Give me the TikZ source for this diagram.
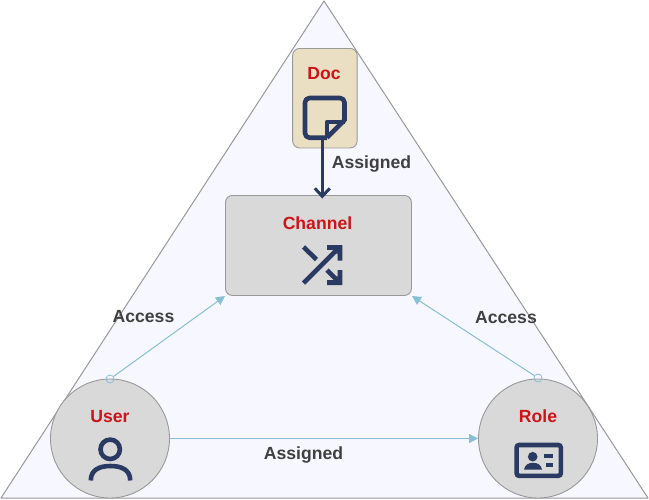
\documentclass[tikz,border=0pt]{standalone}
\usepackage{fontspec}
\setmainfont{Liberation Sans}
\usetikzlibrary{arrows.meta}
\definecolor{navy}{HTML}{2B3A63}
\definecolor{linkblue}{HTML}{86BFD6}
\definecolor{redtxt}{HTML}{CC1418}
\definecolor{greytxt}{HTML}{404040}
\definecolor{boxgrey}{HTML}{D9D9D9}
\definecolor{docfill}{HTML}{EBDFC3}
\definecolor{edgegrey}{HTML}{999999}
\definecolor{triback}{HTML}{F7F7FF}
\tikzset{
  title/.style={font=\fontsize{17.6}{20}\selectfont\bfseries,text=redtxt,anchor=base,inner sep=0pt},
  edgelabel/.style={font=\fontsize{17.6}{20}\selectfont\bfseries,text=greytxt,anchor=base,inner sep=0pt},
  rbox/.style={draw=edgegrey,line width=0.9pt,rounded corners=7pt,inner sep=0pt,anchor=north west},
  entity/.style={circle,draw=edgegrey,fill=boxgrey,line width=0.9pt,minimum size=119pt,inner sep=0pt},
  startdot/.style={circle,draw=linkblue,fill=none,line width=0.8pt,minimum size=8pt,inner sep=0pt},
  link/.style={draw=linkblue,line width=1pt,-{Triangle[length=9pt,width=9pt,fill=linkblue]}},
  icon/.style={draw=navy,line width=4.6pt},
}
\begin{document}
\begin{tikzpicture}[x=1pt,y=-1pt]
\useasboundingbox (0,0) rectangle (649,499);
\fill[white] (0,0) rectangle (649,499);
\draw[draw=edgegrey,fill=triback,line width=1pt,line join=round] (324,1) -- (648,498) -- (1,498) -- cycle;

\node[rbox,fill=docfill,minimum width=64.5pt,minimum height=99.5pt] (doc) at (292.2,48) {};
\node[rbox,fill=boxgrey,minimum width=186pt,minimum height=100pt] (channel) at (225,195) {};
\node[entity] (user) at (110,438.5) {};
\node[entity] (role) at (538,438.5) {};

\coordinate (docout) at (322.3,140);
\coordinate (chanin) at (322.3,198.5);
\draw[draw=navy,line width=3pt,-{Straight Barb[length=8pt,width=15pt,line width=3pt]}] (docout) -- (chanin);

\node[startdot] (us) at (110,379) {};
\node[startdot] (rs) at (538,378) {};
\coordinate (chanL) at (225,296);
\coordinate (chanR) at (412,296);
\draw[link] (us) -- (chanL);
\draw[link] (rs) -- (chanR);
\draw[link] (user.east) -- (role.west);

\node[title] (tdoc) at (324,79) {Doc};
\node[title] (tchan) at (317.5,229.3) {Channel};
\node[title] (tuser) at (110,422) {User};
\node[title] (trole) at (538,422) {Role};
\node[edgelabel] (l1) at (371.5,168) {Assigned};
\node[edgelabel] (l2) at (143.5,322) {Access};
\node[edgelabel] (l3) at (506,323) {Access};
\node[edgelabel] (l4) at (303.5,459) {Assigned};

% doc icon
\draw[icon,line join=round,rounded corners=4.5pt] (327,137.7) -- (305,137.7) -- (305,98) -- (344.5,98) -- (344.5,121);
\draw[icon,line join=round] (344.5,120) -- (327,137.7);
\draw[icon,line join=round] (344.5,122) -- (327,122) -- (327,137.7);

% channel icon
\draw[icon] (303.5,283) -- (339,247.5);
\draw[icon] (303.5,247) -- (316.5,259.5);
\draw[icon] (327,270) -- (339,282);
\fill[navy] (327,245) -- (342.3,245) -- (342.3,260.5) -- (337.5,260.5) -- (337.5,249.8) -- (327,249.8) -- cycle;
\fill[navy] (333,250) -- (337.6,250) -- (337.6,254.5) -- cycle;
\fill[navy] (342.3,270) -- (342.3,285) -- (327,285) -- (327,280.2) -- (337.5,280.2) -- (337.5,270) -- cycle;
\fill[navy] (333,280.2) -- (337.6,280.2) -- (337.6,275.5) -- cycle;

% user icon
\draw[icon] (110.2,449.3) circle (9.7);
\draw[icon] (90.8,480.5) .. controls (90.8,470) and (99,466) .. (110.5,466) .. controls (122,466) and (130.2,470) .. (130.2,480.5);

% role icon
\draw[icon,rounded corners=2.5pt] (516.6,445) rectangle (560.8,475.8);
\fill[navy] (532.7,456.7) circle (4.8);
\fill[navy] (524,469.5) .. controls (525,465) and (528,462.8) .. (533,462.8) .. controls (538,462.8) and (541,465) .. (542,469.5) -- cycle;
\fill[navy] (543.5,454.3) rectangle (553.3,458);
\fill[navy] (546,463) rectangle (553.3,466.7);
\end{tikzpicture}
\end{document}
